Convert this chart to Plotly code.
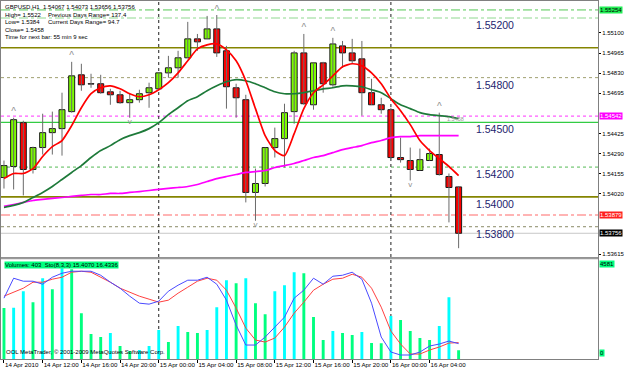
import plotly.graph_objects as go

# ---------------- data ----------------
symbol = "GBPUSD,H1"
tick_idx = [0, 4, 8, 12, 16, 20, 24, 28, 32, 36, 40, 44]
tick_text = ["14 Apr 2010", "14 Apr 12:00", "14 Apr 16:00", "14 Apr 20:00",
             "15 Apr 00:00", "15 Apr 04:00", "15 Apr 08:00", "15 Apr 12:00",
             "15 Apr 16:00", "15 Apr 20:00", "16 Apr 00:00", "16 Apr 04:00"]
day_start_idx = [16, 40]

open_ = [1.54130, 1.54204, 1.54498, 1.54184, 1.54331, 1.54431, 1.54458, 1.54572,
         1.54819, 1.54759, 1.54759, 1.54705, 1.54685, 1.54632, 1.54652, 1.54699,
         1.54725, 1.54832, 1.54866, 1.54933, 1.55060, 1.55060, 1.55127, 1.54980,
         1.54732, 1.54652, 1.54030, 1.54090, 1.54331, 1.54391, 1.54572, 1.54966,
         1.54618, 1.54899, 1.54752, 1.55013, 1.54966, 1.54926, 1.54699, 1.54618,
         1.54585, 1.54264, 1.54244, 1.54177, 1.54244, 1.54284, 1.54137, 1.54067]
high = [1.54244, 1.54531, 1.54511, 1.54337, 1.54558, 1.54572, 1.54699, 1.54906,
        1.54893, 1.54826, 1.54819, 1.54725, 1.54712, 1.54692, 1.54719, 1.54766,
        1.54832, 1.54946, 1.54980, 1.55174, 1.55093, 1.55214, 1.55220, 1.55013,
        1.54759, 1.54685, 1.54190, 1.54331, 1.54465, 1.54625, 1.54980, 1.55093,
        1.54899, 1.54906, 1.55067, 1.55046, 1.55060, 1.55046, 1.54792, 1.54665,
        1.54598, 1.54398, 1.54331, 1.54324, 1.54324, 1.54565, 1.54157, 1.54073]
low = [1.54056, 1.54050, 1.54010, 1.54157, 1.54284, 1.54284, 1.54277, 1.54565,
       1.54712, 1.54732, 1.54692, 1.54618, 1.54625, 1.54531, 1.54632, 1.54598,
       1.54725, 1.54799, 1.54799, 1.54933, 1.54980, 1.55060, 1.54939, 1.54592,
       1.54531, 1.53963, 1.53840, 1.54070, 1.54264, 1.54197, 1.54491, 1.54618,
       1.54585, 1.54699, 1.54739, 1.54866, 1.54893, 1.54545, 1.54618, 1.54558,
       1.54257, 1.54230, 1.54110, 1.54177, 1.54244, 1.54143, 1.53829, 1.53656]
close = [1.54210, 1.54518, 1.54184, 1.54331, 1.54431, 1.54458, 1.54585, 1.54812,
         1.54752, 1.54757, 1.54699, 1.54685, 1.54632, 1.54652, 1.54692, 1.54732,
         1.54832, 1.54866, 1.54933, 1.55060, 1.55040, 1.55127, 1.54966, 1.54739,
         1.54665, 1.54030, 1.54090, 1.54331, 1.54391, 1.54565, 1.54966, 1.54625,
         1.54899, 1.54759, 1.55026, 1.54966, 1.54913, 1.54699, 1.54618, 1.54585,
         1.54264, 1.54250, 1.54184, 1.54250, 1.54291, 1.54150, 1.54063, 1.53756]

ma_fast = [1.54123, 1.54157, 1.54157, 1.54190, 1.54271, 1.54337, 1.54378, 1.54478,
           1.54598, 1.54692, 1.54732, 1.54745, 1.54725, 1.54692, 1.54672, 1.54685,
           1.54719, 1.54766, 1.54832, 1.54913, 1.54993, 1.55020, 1.55026, 1.54986,
           1.54913, 1.54779, 1.54592, 1.54411, 1.54311, 1.54277, 1.54424, 1.54592,
           1.54699, 1.54752, 1.54812, 1.54873, 1.54893, 1.54879, 1.54832, 1.54759,
           1.54659, 1.54578, 1.54485, 1.54378, 1.54311, 1.54257, 1.54204, 1.54143]
ma_mid = [1.53929, 1.53943, 1.53963, 1.53996, 1.54030, 1.54070, 1.54117, 1.54164,
          1.54210, 1.54264, 1.54311, 1.54344, 1.54384, 1.54411, 1.54431, 1.54458,
          1.54498, 1.54552, 1.54598, 1.54645, 1.54672, 1.54712, 1.54745, 1.54772,
          1.54786, 1.54779, 1.54759, 1.54732, 1.54705, 1.54692, 1.54692, 1.54699,
          1.54712, 1.54725, 1.54732, 1.54745, 1.54745, 1.54739, 1.54719, 1.54699,
          1.54659, 1.54618, 1.54592, 1.54565, 1.54552, 1.54545, 1.54538, 1.54525]
ma_slow = [1.53936, 1.53949, 1.53963, 1.53976, 1.53983, 1.53990, 1.53996, 1.54003,
           1.54010, 1.54016, 1.54016, 1.54023, 1.54023, 1.54030, 1.54036, 1.54043,
           1.54050, 1.54057, 1.54063, 1.54070, 1.54083, 1.54103, 1.54123, 1.54137,
           1.54150, 1.54164, 1.54170, 1.54177, 1.54197, 1.54210, 1.54224, 1.54244,
           1.54264, 1.54277, 1.54297, 1.54317, 1.54331, 1.54344, 1.54364, 1.54378,
           1.54398, 1.54404, 1.54404, 1.54411, 1.54411, 1.54411, 1.54411, 1.54411]

fractal_up_idx = [1, 7, 22, 31, 34, 45]
fractal_dn_idx = [13, 26, 42]

volume = [2340, 2350, 3115, 2611, 3711, 3207, 4169, 4123, 2107, 1145, 1008, 1191,
          596, 366, 412, 596, 1328, 779, 1512, 1237, 1191, 1328, 2382, 3619,
          3482, 3711, 2565, 2061, 3115, 3390, 3985, 3940, 1924, 870, 1283, 1191,
          1099, 1237, 733, 720, 1970, 1787, 1283, 962, 870, 1512, 2840, 403]
volume_max = 4581
stoch_k = [61, 81, 78, 78, 75, 82, 86, 88, 88, 88, 84, 77, 71, 63, 56, 55, 58, 68,
           74, 79, 79, 82, 75, 59, 34, 14, 14, 22, 32, 42, 61, 69, 81, 75, 83, 84,
           87, 80, 56, 22, 7, 4, 4, 7, 13, 15, 18, 15.4070]
stoch_d = [63, 67, 71, 77, 77, 80, 82, 87, 88, 87, 82, 77, 71, 67, 63, 60, 57, 59,
           66, 72, 78, 81, 79, 69, 51, 31, 19, 17, 21, 32, 46, 57, 69, 75, 80, 81,
           85, 82, 71, 52, 28, 15, 5, 5, 9, 12, 16, 16.4336]

price_ticks = [1.55100, 1.54965, 1.54830, 1.54695, 1.54425, 1.54290, 1.54155,
               1.54020, 1.53615]
round_levels = [1.55200, 1.54800, 1.54500, 1.54200, 1.54000, 1.53800]
level_lines = [1.55254, 1.55200, 1.55000, 1.54800, 1.54542, 1.54500, 1.54200,
               1.54000, 1.53879, 1.53800, 1.53756]
boxed_levels = [1.55254, 1.54542, 1.53879, 1.53756]
info_lines = ["High= 1.5522", "Low= 1.5384", "Close= 1.5458", "Time for next bar: 55 min 9 sec"]
range_lines = ["Previous Days Range= 137.4", "Current Days Range= 94.7"]
pivot_text = "1.5458"

# ---------------- styles / layout ----------------
FONT = "Liberation Sans, Arial, sans-serif"
W, H = 625, 370
PLOT_H = 359
MAIN_BOTTOM_PX = 257
SUB_TOP_PX = 259

def py(px):
    return 1 - px / PLOT_H

n = len(close)
idx = list(range(n))

fig = go.Figure()

# wicks
wx, wy = [], []
for i in idx:
    wx += [i, i, None]
    wy += [low[i], high[i], None]
fig.add_trace(go.Scatter(x=wx, y=wy, mode="lines", line=dict(color="#6a6a6a", width=1),
                         xaxis="x", yaxis="y", hoverinfo="skip", showlegend=False))
# bodies
body_base = [min(o, c) for o, c in zip(open_, close)]
body_h = [abs(c - o) for o, c in zip(open_, close)]
body_col = ["#7CFC00" if c > o else "#FF0000" for o, c in zip(open_, close)]
fig.add_trace(go.Bar(x=idx, y=body_h, base=body_base, width=0.62,
                     marker=dict(color=body_col, line=dict(color="#1a1a1a", width=1)),
                     xaxis="x", yaxis="y", showlegend=False, hoverinfo="skip"))
# moving averages
for ma, col in [(ma_slow, "#FF00FF"), (ma_mid, "#1E7A3A"), (ma_fast, "#FF0000")]:
    fig.add_trace(go.Scatter(x=idx, y=ma, mode="lines",
                             line=dict(color=col, width=1.7, shape="spline", smoothing=0.6),
                             xaxis="x", yaxis="y", showlegend=False, hoverinfo="skip"))
# fractals
fig.add_trace(go.Scatter(x=fractal_up_idx, y=[high[i] for i in fractal_up_idx], mode="text",
                         text=["^"] * len(fractal_up_idx), textposition="top center",
                         textfont=dict(family=FONT, size=10, color="#909090"),
                         xaxis="x", yaxis="y", showlegend=False, hoverinfo="skip"))
fig.add_trace(go.Scatter(x=fractal_dn_idx, y=[low[i] for i in fractal_dn_idx], mode="text",
                         text=["v"] * len(fractal_dn_idx), textposition="bottom center",
                         textfont=dict(family=FONT, size=8, color="#909090"),
                         xaxis="x", yaxis="y", showlegend=False, hoverinfo="skip"))

# volumes
vol_col = []
for i, v in enumerate(volume):
    vol_col.append("#00FFFF" if i > 0 and v > volume[i - 1] else "#00FF7F")
fig.add_trace(go.Bar(x=idx, y=volume, width=0.3, marker=dict(color=vol_col, line=dict(width=0)),
                     xaxis="x2", yaxis="y2", showlegend=False, hoverinfo="skip"))
# stochastic
fig.add_trace(go.Scatter(x=idx, y=stoch_d, mode="lines", line=dict(color="#FF4040", width=1),
                         xaxis="x2", yaxis="y3", showlegend=False, hoverinfo="skip"))
fig.add_trace(go.Scatter(x=idx, y=stoch_k, mode="lines", line=dict(color="#4A4AFF", width=1),
                         xaxis="x2", yaxis="y3", showlegend=False, hoverinfo="skip"))

# ---------------- shapes ----------------
level_styles = {
    1.55254: dict(color="#55C855", width=1, dash="dashdot"),
    1.55200: dict(color="#8FD88F", width=1, dash="dashdot"),
    1.55000: dict(color="#858500", width=1.6, dash="solid"),
    1.54800: dict(color="#A0A070", width=1, dash="dot"),
    1.54542: dict(color="#FF33FF", width=1, dash="dot"),
    1.54500: dict(color="#33CC44", width=1.3, dash="solid"),
    1.54200: dict(color="#55BB55", width=1, dash="dot"),
    1.54000: dict(color="#858500", width=1.6, dash="solid"),
    1.53879: dict(color="#FF9C9C", width=1.5, dash="dashdot"),
    1.53800: dict(color="#8A8A66", width=1, dash="dot"),
    1.53756: dict(color="#C8C8C8", width=1, dash="solid"),
}
shapes = []
for lv in level_lines:
    shapes.append(dict(type="line", xref="paper", x0=0, x1=1, yref="y", y0=lv, y1=lv,
                       line=level_styles[lv], layer="below"))
for d in day_start_idx:
    shapes.append(dict(type="line", xref="x", x0=d, x1=d, yref="paper", y0=0, y1=1,
                       line=dict(color="#202020", width=1, dash="dot"), layer="below"))
# separator between panels
shapes.append(dict(type="rect", xref="paper", x0=0, x1=1, yref="paper",
                   y0=py(SUB_TOP_PX), y1=py(MAIN_BOTTOM_PX),
                   line=dict(width=0), fillcolor="#9a9a9a", layer="above"))

# ---------------- annotations ----------------
ann = []
for lv in round_levels:
    ann.append(dict(xref="paper", x=478 / 603, xanchor="left", yref="y", y=lv, yanchor="top",
                    yshift=1, text=f"{lv:.5f}", showarrow=False,
                    font=dict(family=FONT, size=10.5, color="#23236E")))
box_style = {
    1.55254: ("#22EE55", "#000000"),
    1.54542: ("#FF00FF", "#FFFFFF"),
    1.53879: ("#FF2020", "#FFFFFF"),
    1.53756: ("#000000", "#FFFFFF"),
}
for lv in boxed_levels:
    bg, fg = box_style[lv]
    ann.append(dict(xref="paper", x=1, xanchor="left", xshift=1, yref="y", y=lv, yanchor="middle",
                    text=f"{lv:.5f}", showarrow=False, bgcolor=bg, borderpad=0,
                    font=dict(family=FONT, size=6, color=fg)))
for val in [volume_max, 0]:
    ann.append(dict(xref="paper", x=1, xanchor="left", xshift=1, yref="y2", y=val,
                    yanchor="top" if val else "bottom", yshift=-1 if val else 2,
                    text=str(val), showarrow=False, bgcolor="#00FF7F", borderpad=0,
                    font=dict(family=FONT, size=6, color="#000000")))
# info block
head = f"{symbol}  {open_[-1]:.5f} {high[-1]:.5f} {low[-1]:.5f} {close[-1]:.5f}"
lines_left = [head] + info_lines
for k, t in enumerate(lines_left):
    ann.append(dict(xref="paper", x=0, xanchor="left", xshift=2, yref="paper", y=py(1.5 + 7.5 * k),
                    yanchor="top", text=t, showarrow=False,
                    font=dict(family=FONT, size=6, color="#000000")))
for k, t in enumerate(range_lines):
    ann.append(dict(xref="paper", x=45 / 603, xanchor="left", yref="paper", y=py(1.5 + 7.5 * (k + 1)),
                    yanchor="top", text=t, showarrow=False,
                    font=dict(family=FONT, size=6, color="#000000")))
ann.append(dict(xref="x", x=fractal_up_idx[-1], xanchor="left", xshift=6, yref="y", y=ma_mid[-1],
                yanchor="middle", text=pivot_text, showarrow=False,
                font=dict(family=FONT, size=5.5, color="#999999")))
# indicator header
ann.append(dict(xref="paper", x=0, xanchor="left", xshift=3, yref="paper", y=py(SUB_TOP_PX + 2),
                yanchor="top", text=f"Volumes: {volume[-1]}  Sto(8,3,3) {stoch_k[-1]:.4f} {stoch_d[-1]:.4f}",
                showarrow=False, bgcolor="#00FF7F", borderpad=0,
                font=dict(family=FONT, size=6, color="#000000")))
ann.append(dict(xref="paper", x=0, xanchor="left", xshift=3, yref="paper", y=py(357),
                yanchor="bottom", text="OOL MetaTrader, © 2001-2009 MetaQuotes Software Corp.",
                showarrow=False, font=dict(family=FONT, size=6, color="#000000")))

x_range = [-0.307, 61.41]
axis_line = dict(showline=True, linecolor="#808080", linewidth=1, mirror=True,
                 showgrid=False, zeroline=False)

fig.update_layout(
    width=W, height=H, margin=dict(l=0, r=22, t=0, b=H - PLOT_H),
    paper_bgcolor="white", plot_bgcolor="white", barmode="overlay",
    showlegend=False, shapes=shapes, annotations=ann,
    xaxis=dict(domain=[0, 1], anchor="y", range=x_range, showticklabels=False, ticks="",
               **axis_line),
    yaxis=dict(domain=[py(MAIN_BOTTOM_PX), 1], anchor="x", side="right",
               range=[1.53595, 1.55314], tickvals=price_ticks,
               ticktext=[f"{v:.5f}" for v in price_ticks], ticks="outside", ticklen=2,
               tickcolor="#000000", tickfont=dict(family=FONT, size=6, color="#000000"),
               **axis_line),
    xaxis2=dict(domain=[0, 1], anchor="y2", matches="x", range=x_range,
                tickvals=tick_idx, ticktext=tick_text, ticks="outside", ticklen=3,
                tickcolor="#000000", ticklabelposition="outside right", tickangle=0,
                tickfont=dict(family=FONT, size=6.2, color="#000000"), **axis_line),
    yaxis2=dict(domain=[0, py(SUB_TOP_PX)], anchor="x2", side="right", range=[0, volume_max],
                showticklabels=False, ticks="", **axis_line),
    yaxis3=dict(overlaying="y2", anchor="x2", range=[0, 100], visible=False),
)

fig.write_html("out.html")
